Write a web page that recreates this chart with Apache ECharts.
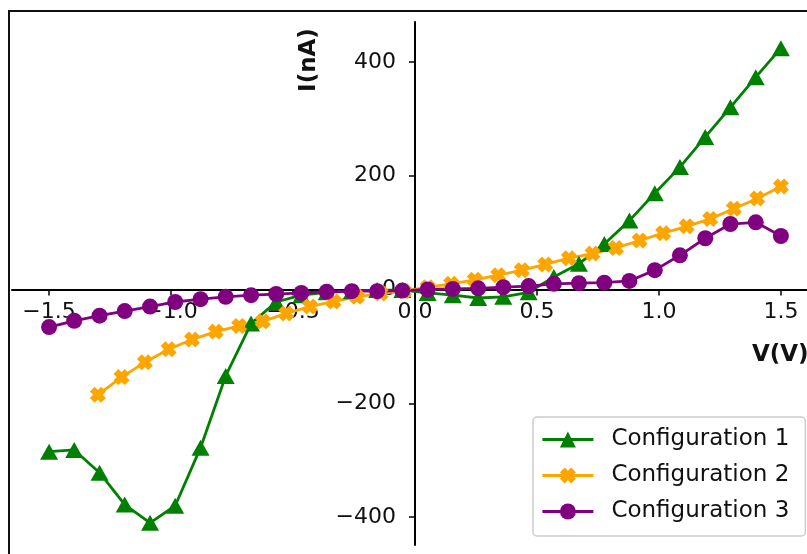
<!DOCTYPE html>
<html>
<head>
<meta charset="utf-8">
<script src="https://cdn.jsdelivr.net/npm/echarts@6/dist/echarts.min.js"></script>
<style>
  html, body { margin: 0; padding: 0; background: #fff; }
  #chart { width: 807px; height: 554px; }
</style>
</head>
<body>
<div id="chart"></div>
<script>
// voltage sweeps (V)
var voltsA = [-1.5, -1.397, -1.293, -1.190, -1.086, -0.983, -0.879, -0.776, -0.672, -0.569,
              -0.466, -0.362, -0.259, -0.155, -0.052, 0.052, 0.155, 0.259, 0.362, 0.466,
              0.569, 0.672, 0.776, 0.879, 0.983, 1.086, 1.190, 1.293, 1.397, 1.5];
var voltsB = [-1.3, -1.203, -1.107, -1.010, -0.914, -0.817, -0.721, -0.624, -0.528, -0.431,
              -0.334, -0.238, -0.141, -0.045, 0.052, 0.148, 0.245, 0.341, 0.438, 0.534,
              0.631, 0.728, 0.824, 0.921, 1.017, 1.114, 1.210, 1.307, 1.403, 1.5];

// currents (nA)
var config1 = [-285, -282, -322, -378, -410, -380, -278, -152, -60, -22,
               -10, -5, -3, -1, -1, -6, -10, -15, -13, -5,
               22, 45, 80, 121, 169, 215, 268, 320, 373, 424];
var config2 = [-185, -154, -128, -105, -88, -74, -64, -56, -42, -30,
               -21, -13, -7, -3, 4, 10, 17, 25, 34, 44,
               55, 63, 73, 86, 99, 111, 124, 142, 160, 181];
var config3 = [-66, -55, -46, -38, -30, -22, -17, -13, -10, -8,
               -6, -4, -3, -3, -2, 0, 1, 2, 4, 6,
               10, 11, 12, 15, 34, 60, 90, 115, 118, 94];

var seriesNames = ['Configuration 1', 'Configuration 2', 'Configuration 3'];
var xTicks = [-1.5, -1.0, -0.5, 0.0, 0.5, 1.0, 1.5];
var yTicks = [-400, -200, 0, 200, 400];

function pairs(xs, ys) {
    return xs.map(function (x, i) { return [x, ys[i]]; });
}
function fmt(v, digits) {
    return v.toFixed(digits).replace('-', '\u2212');
}

// chunky "X" marker like matplotlib's 'X'
var xMarker = 'path://M0,3 L3,0 L5,2 L7,0 L10,3 L8,5 L10,7 L7,10 L5,8 L3,10 L0,7 L2,5 Z';
var font = 'DejaVu Sans';
var gridBox = { left: 12, right: 0, top: 22, bottom: 9 };

var chart = echarts.init(document.getElementById('chart'));
var option = {
    animation: false,
    backgroundColor: '#ffffff',
    grid: {
        left: gridBox.left, right: gridBox.right, top: gridBox.top, bottom: gridBox.bottom,
        containLabel: false,
        outerBoundsMode: 'none'
    },
    xAxis: {
        type: 'value',
        position: 'bottom',
        min: -1.652,
        max: 1.607,
        axisLine: { onZero: false, lineStyle: { color: '#000', width: 2 } },
        axisTick: { show: true, length: 6, customValues: xTicks, lineStyle: { color: '#000', width: 1.5 } },
        axisLabel: {
            customValues: xTicks,
            margin: 12,
            color: '#111',
            fontFamily: font,
            fontSize: 22,
            formatter: function (v) { return fmt(v, 1); }
        },
        splitLine: { show: false }
    },
    yAxis: {
        type: 'value',
        position: 'left',
        min: -449,
        max: 470,
        axisLine: { show: true, onZero: false, lineStyle: { color: '#000', width: 2 } },
        axisTick: { show: true, length: 6, customValues: yTicks, lineStyle: { color: '#000', width: 1.5 } },
        axisLabel: {
            customValues: yTicks,
            margin: 19,
            color: '#111',
            fontFamily: font,
            fontSize: 22,
            formatter: function (v) { return fmt(v, 0); }
        },
        splitLine: { show: false }
    },
    legend: {
        orient: 'vertical',
        left: 533,
        top: 417,
        padding: [11, 16, 13, 8],
        itemWidth: 51,
        itemHeight: 20,
        itemGap: 13,
        backgroundColor: '#fff',
        borderColor: '#cccccc',
        borderWidth: 1.5,
        borderRadius: 4,
        lineStyle: { width: 2.8 },
        textStyle: { fontFamily: font, fontSize: 23, color: '#111', padding: [0, 0, 0, 13] },
        data: seriesNames
    },
    graphic: [
        { type: 'rect', shape: { x: 9, y: 11, width: 900, height: 700 },
          style: { fill: 'none', stroke: '#111', lineWidth: 2 }, silent: true },
        { type: 'text', x: 309, y: 60, rotation: Math.PI / 2,
          style: { text: 'I(nA)', font: 'bold 23px "DejaVu Sans"', fill: '#111',
                   textAlign: 'center', textVerticalAlign: 'middle' } },
        { type: 'text', x: 752, y: 355,
          style: { text: 'V(V)', font: 'bold 23px "DejaVu Sans"', fill: '#111',
                   textAlign: 'left', textVerticalAlign: 'middle' } }
    ],
    series: [
        {
            name: seriesNames[0],
            type: 'line',
            data: pairs(voltsA, config1),
            symbol: 'triangle',
            symbolSize: [18, 16],
            color: '#008000',
            lineStyle: { width: 2.8 },
            itemStyle: { color: '#008000' }
        },
        {
            name: seriesNames[1],
            type: 'line',
            data: pairs(voltsB, config2),
            symbol: xMarker,
            symbolSize: 16,
            color: '#FFA500',
            lineStyle: { width: 2.8 },
            itemStyle: { color: '#FFA500' }
        },
        {
            name: seriesNames[2],
            type: 'line',
            data: pairs(voltsA, config3),
            symbol: 'circle',
            symbolSize: 16,
            color: '#800080',
            lineStyle: { width: 2.8 },
            itemStyle: { color: '#800080' }
        }
    ]
};
chart.setOption(option);

// move both axes onto the origin (matplotlib "spines at zero")
var origin = chart.convertToPixel({ gridIndex: 0 }, [0, 0]);
chart.setOption({
    xAxis: { offset: -(554 - gridBox.bottom - origin[1]) },
    yAxis: { offset: -(origin[0] - gridBox.left) }
});
</script>
</body>
</html>
